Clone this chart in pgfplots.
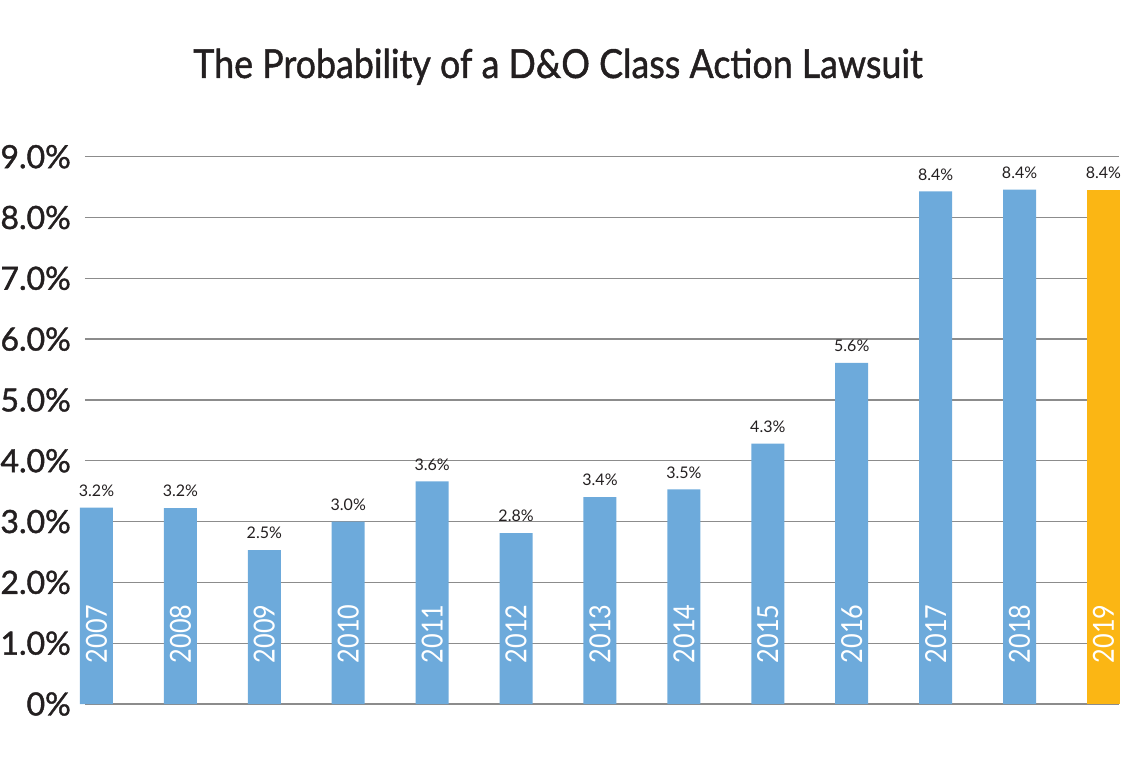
\documentclass[border=0pt]{standalone}
\usepackage{pgfplots}
\pgfplotsset{compat=1.18}
\usepackage{pgfplotstable}
\usepackage{fontspec}
\setmainfont{Lato}
\newfontfamily\medfont{Lato}[FakeBold=1.2]
\definecolor{barblue}{HTML}{6DAADB}
\definecolor{barorange}{HTML}{FBB614}
\definecolor{txt}{HTML}{231F20}
\definecolor{gridc}{HTML}{8C8C8C}

\pgfplotstableread{
x val lab year ylab
0 3.23 3.2 2007 0.67
1 3.22 3.2 2008 0.67
2 2.53 2.5 2009 0.67
3 3.00 3.0 2010 0.67
4 3.66 3.6 2011 0.67
5 2.81 2.8 2012 0.67
6 3.40 3.4 2013 0.67
7 3.53 3.5 2014 0.67
8 4.28 4.3 2015 0.67
9 5.61 5.6 2016 0.67
10 8.43 8.4 2017 0.67
11 8.46 8.4 2018 0.67
}\bluedata

\pgfplotstableread{
x val lab year ylab
12 8.46 8.4 2019 0.67
}\orangedata

\begin{document}
\begin{tikzpicture}
\useasboundingbox (0pt,0pt) rectangle (1125pt,764pt);
\node[font=\medfont\fontsize{40}{48}\selectfont, text=txt, anchor=base] at (558pt,686pt) {\scalebox{0.895}[1]{The Probability of a D\&O Class Action Lawsuit}};
\begin{axis}[
  at={(85pt,60pt)}, anchor=south west,
  scale only axis, width=1034pt, height=547.3pt,
  xmin=-0.137, xmax=12.185, ymin=0, ymax=9,
  clip=false,
  axis line style={draw=none},
  xtick=\empty,
  ytick={0,1,2,3,4,5,6,7,8,9},
  yticklabels={0\%,1.0\%,2.0\%,3.0\%,4.0\%,5.0\%,6.0\%,7.0\%,8.0\%,9.0\%},
  major tick length=0pt,
  ymajorgrids,
  grid style={gridc, line width=1.3pt},
  yticklabel style={font=\medfont\fontsize{32}{32}\selectfont, text=txt, inner sep=0pt, anchor=east, xshift=-14pt},
]
\addplot[ybar, bar width=33pt, bar shift=0pt, fill=barblue, draw=none,
  point meta=explicit symbolic,
  nodes near coords={\pgfplotspointmeta\%},
  nodes near coords style={font=\fontsize{16}{16}\selectfont, text=txt, anchor=south, inner sep=0pt, yshift=11pt}]
  table[x=x, y=val, meta=lab] {\bluedata};
\addplot[ybar, bar width=33pt, bar shift=0pt, fill=barorange, draw=none,
  point meta=explicit symbolic,
  nodes near coords={\pgfplotspointmeta\%},
  nodes near coords style={font=\fontsize{16}{16}\selectfont, text=txt, anchor=south, inner sep=0pt, yshift=11pt}]
  table[x=x, y=val, meta=lab] {\orangedata};
\addplot[draw=none, mark=none, point meta=explicit symbolic,
  nodes near coords={\scalebox{0.87}[1]{\pgfplotspointmeta}},
  nodes near coords style={rotate=90, anchor=west, inner sep=0pt, text=white, font=\fontsize{29}{29}\selectfont}]
  table[x=x, y=ylab, meta=year] {\bluedata};
\addplot[draw=none, mark=none, point meta=explicit symbolic,
  nodes near coords={\scalebox{0.87}[1]{\pgfplotspointmeta}},
  nodes near coords style={rotate=90, anchor=west, inner sep=0pt, text=white, font=\fontsize{29}{29}\selectfont}]
  table[x=x, y=ylab, meta=year] {\orangedata};
\end{axis}
\end{tikzpicture}
\end{document}
